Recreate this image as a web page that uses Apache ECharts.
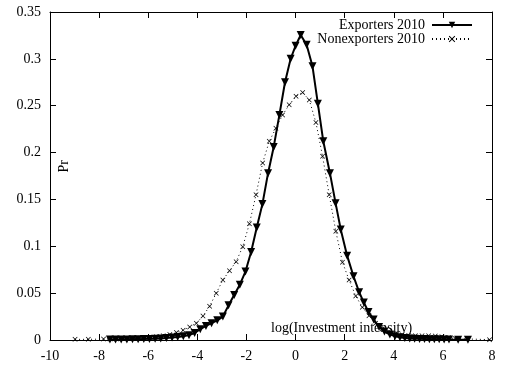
<!DOCTYPE html>
<html>
<head>
<meta charset="utf-8">
<script src="https://cdn.jsdelivr.net/npm/echarts@6/dist/echarts.min.js"></script>
<style>html,body{margin:0;padding:0;background:#fff}#c{width:507px;height:367px}</style>
</head>
<body>
<div id="c"></div>
<script>
const xTicks = [-10,-8,-6,-4,-2,0,2,4,6,8];
const yTicks = [0,0.05,0.1,0.15,0.2,0.25,0.3,0.35];
const seriesNames = ["Exporters 2010","Nonexporters 2010"];
const axisTitleX = "log(Investment intensity)";
const axisTitleY = "Pr";

const exportersX = [-7.56,-7.33,-7.10,-6.87,-6.64,-6.41,-6.18,-5.95,-5.72,-5.49,-5.26,-5.03,-4.80,-4.57,-4.34,-4.11,-3.88,-3.65,-3.42,-3.19,-2.96,-2.73,-2.50,-2.27,-2.04,-1.81,-1.58,-1.35,-1.12,-0.89,-0.66,-0.43,-0.20,0.00,0.21,0.45,0.69,0.91,1.13,1.40,1.63,1.84,2.10,2.36,2.59,2.78,2.97,3.18,3.40,3.62,3.84,4.05,4.25,4.45,4.65,4.85,5.05,5.25,5.45,5.65,5.85,6.05,6.25,6.62,7.02];
const exportersY = [0.0005,0.0005,0.0006,0.0006,0.0007,0.0008,0.0010,0.0012,0.0014,0.0017,0.0021,0.0026,0.0032,0.0040,0.0052,0.0075,0.0115,0.0150,0.0180,0.0210,0.0250,0.0370,0.0480,0.0590,0.0730,0.0940,0.1200,0.1450,0.1780,0.2060,0.2400,0.2750,0.3000,0.3140,0.3255,0.3150,0.2920,0.2520,0.2120,0.1780,0.1460,0.1180,0.0900,0.0680,0.0510,0.0400,0.0300,0.0220,0.0140,0.0090,0.0060,0.0040,0.0030,0.0022,0.0017,0.0014,0.0012,0.0010,0.0009,0.0008,0.0007,0.0006,0.0005,0.0004,0.0003];

const nonexX = [-8.98,-8.44,-7.82,-7.55,-7.28,-7.01,-6.74,-6.47,-6.20,-5.93,-5.66,-5.39,-5.12,-4.85,-4.58,-4.31,-4.04,-3.77,-3.50,-3.23,-2.96,-2.69,-2.42,-2.15,-1.88,-1.61,-1.34,-1.07,-0.80,-0.53,-0.26,0.02,0.29,0.56,0.83,1.10,1.37,1.64,1.91,2.18,2.45,2.72,2.99,3.26,3.53,3.80,4.07,4.34,4.61,4.88,5.15,5.42,5.69,5.96,6.23,6.50,7.90];
const nonexY = [0.0007,0.0007,0.0010,0.0011,0.0012,0.0013,0.0015,0.0018,0.0022,0.0028,0.0035,0.0045,0.0060,0.0080,0.0105,0.0140,0.0180,0.0256,0.0360,0.0500,0.0640,0.0740,0.0836,0.0996,0.1240,0.1550,0.1890,0.2120,0.2260,0.2400,0.2510,0.2600,0.2640,0.2560,0.2320,0.1960,0.1550,0.1160,0.0830,0.0640,0.0470,0.0350,0.0260,0.0180,0.0120,0.0090,0.0070,0.0055,0.0048,0.0045,0.0045,0.0045,0.0042,0.0035,0.0025,0.0015,0.0004];

const FONT = "Liberation Serif";
const exData = exportersX.map((x,i)=>[x, exportersY[i]]);
const nxData = nonexX.map((x,i)=>[x, nonexY[i]]);
const crossPath = 'path://M0,1L1,0L5,4L9,0L10,1L6,5L10,9L9,10L5,6L1,10L0,9L4,5Z';

const chart = echarts.init(document.getElementById('c'), null, {renderer:'canvas'});
const xBase = {type:'value', min:xTicks[0], max:xTicks[xTicks.length-1], interval:2,
  axisLine:{show:true, onZero:false, lineStyle:{color:'#000', width:1}},
  axisTick:{show:true, inside:true, length:6, lineStyle:{color:'#000'}},
  splitLine:{show:false}};
const yBase = {type:'value', min:0, max:0.35, interval:0.05,
  axisLine:{show:true, onZero:false, lineStyle:{color:'#000', width:1}},
  axisTick:{show:true, inside:true, length:6, lineStyle:{color:'#000'}},
  splitLine:{show:false}};
chart.setOption({
  animation:false,
  backgroundColor:'#fff',
  grid:{left:50, right:15, top:12, bottom:27, containLabel:false},
  xAxis:[
    Object.assign({}, xBase, {position:'bottom', axisLabel:{color:'#000', fontFamily:FONT, fontSize:14, margin:9,
      formatter:v=>String(v)}}),
    Object.assign({}, xBase, {position:'top', axisLabel:{show:false}})
  ],
  yAxis:[
    Object.assign({}, yBase, {position:'left', axisLabel:{color:'#000', fontFamily:FONT, fontSize:14, margin:9,
      formatter:v=>String(+v.toFixed(2))}}),
    Object.assign({}, yBase, {position:'right', axisLabel:{show:false}})
  ],
  legend:{
    orient:'vertical', right:34, top:18, padding:0, align:'right', itemWidth:40, itemHeight:8, itemGap:0,
    textStyle:{color:'#000', fontFamily:FONT, fontSize:14, lineHeight:11, padding:[0,2,0,0]},
    data:seriesNames
  },
  graphic:[
    {type:'text', left:57, top:160, rotation:Math.PI/2, style:{text:axisTitleY, font:'14px "Liberation Serif"', fill:'#000'}},
    {type:'text', left:271, top:321, style:{text:axisTitleX, font:'14px "Liberation Serif"', fill:'#000'}}
  ],
  series:[
    {name:seriesNames[0], type:'line', data:exData, xAxisIndex:0, yAxisIndex:0,
      symbol:'triangle', symbolRotate:180, symbolSize:8, showAllSymbol:true,
      lineStyle:{color:'#000', width:2}, itemStyle:{color:'#000'}, z:3},
    {name:seriesNames[1], type:'line', data:nxData, xAxisIndex:0, yAxisIndex:0,
      symbol:crossPath, symbolSize:5, showAllSymbol:true,
      lineStyle:{color:'#000', width:1, type:[1,3]}, itemStyle:{color:'#000'}, z:2}
  ]
});
</script>
</body>
</html>
